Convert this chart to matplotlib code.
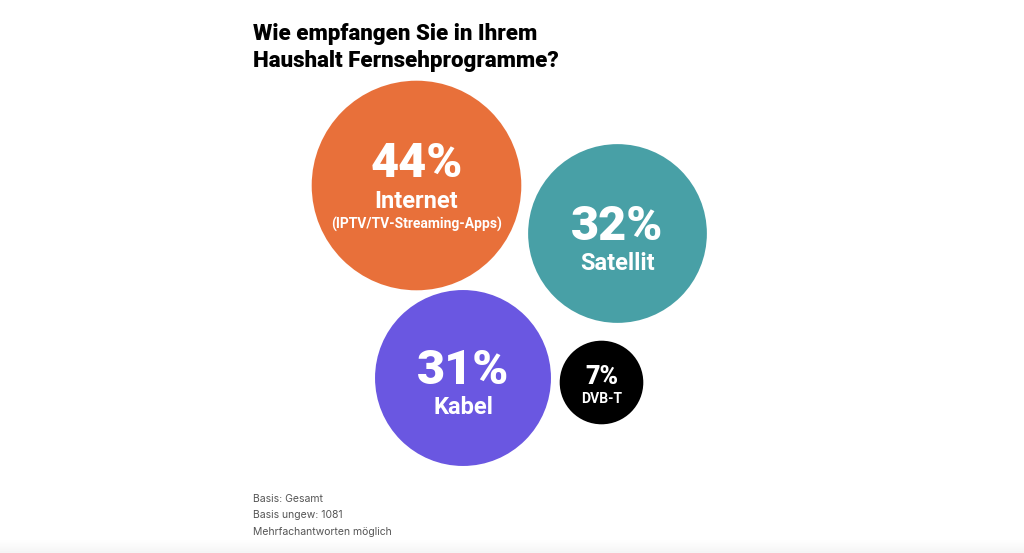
import numpy as np
import matplotlib
matplotlib.use("Agg")
import matplotlib.pyplot as plt
from matplotlib.patches import Circle

# data
categories = ["Internet", "Satellit", "Kabel", "DVB-T"]
subtitles = ["(IPTV/TV-Streaming-Apps)", "", "", ""]
values = [44, 32, 31, 7]
colors = ["#E8703A", "#48A0A6", "#6A57E1", "#000000"]

title_lines = ["Wie empfangen Sie in Ihrem", "Haushalt Fernsehprogramme?"]
notes = ["Basis: Gesamt", "Basis ungew: 1081", "Mehrfachantworten möglich"]

# layout (pixel coordinates, y downwards)
centers = [(416.5, 185.5), (617.5, 233.5), (463, 378), (601.5, 382.5)]
scale = 15.8  # radius = scale * sqrt(value)

fig = plt.figure(figsize=(10.24, 5.53), dpi=100)
ax = fig.add_axes([0, 0, 1, 1])
ax.set_xlim(0, 1024)
ax.set_ylim(553, 0)
ax.set_aspect("equal")
ax.axis("off")

bold = "Roboto"

for cat, sub, val, col, (cx, cy) in zip(categories, subtitles, values, colors, centers):
    r = scale * np.sqrt(val)
    ax.add_patch(Circle((cx, cy), r, color=col, lw=0))
    if val >= 20:
        off = -8.5 if sub else 6
        ax.text(cx, cy + off, f"{val}%", ha="center", va="baseline",
                fontsize=35, fontweight=900, family=bold, color="white")
        ax.text(cx, cy + off + 30.5, cat, ha="center", va="baseline",
                fontsize=17, fontweight="bold", family=bold, color="white")
        if sub:
            ax.text(cx, cy + off + 52, sub, ha="center", va="baseline",
                    fontsize=10, fontweight="bold", family=bold, color="white")
    else:
        ax.text(cx, cy + 1, f"{val}%", ha="center", va="baseline",
                fontsize=18, fontweight=900, family=bold, color="white")
        ax.text(cx, cy + 20.5, cat, ha="center", va="baseline",
                fontsize=10, fontweight="bold", family=bold, color="white")

for i, line in enumerate(title_lines):
    ax.text(253, 40 + i * 27, line, ha="left", va="baseline", fontsize=16,
            fontweight=900, family="Roboto", color="black")

for i, line in enumerate(notes):
    ax.text(253, 502 + i * 16.5, line, ha="left", va="baseline", fontsize=7.5,
            family="Inter", color="#555555")

# faint shadow at the bottom edge
grad = np.linspace(0, 1, 20).reshape(-1, 1)
ax.imshow(grad, extent=(0, 1024, 553, 540), cmap="Greys", vmin=0, vmax=12,
          aspect="auto", zorder=0)

fig.savefig("out.png", dpi=100)
